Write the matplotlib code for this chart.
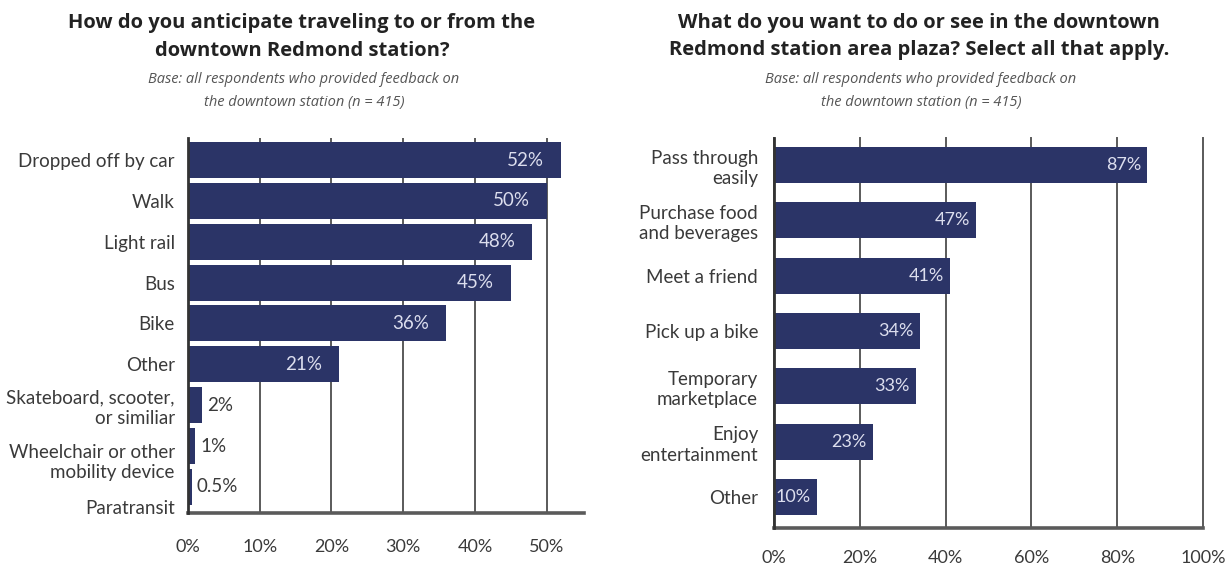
import matplotlib
matplotlib.use("Agg")
import matplotlib.pyplot as plt
from matplotlib.transforms import ScaledTranslation

# ---- data -------------------------------------------------------------
travel_modes = ["Dropped off by car", "Walk", "Light rail", "Bus", "Bike", "Other",
                "Skateboard, scooter,\nor similiar", "Wheelchair or other\nmobility device",
                "Paratransit"]
travel_pct = [52, 50, 48, 45, 36, 21, 2, 1, 0.5]
travel_ticks = [0, 10, 20, 30, 40, 50]

plaza_activities = ["Pass through\neasily", "Purchase food\nand beverages", "Meet a friend",
                    "Pick up a bike", "Temporary\nmarketplace", "Enjoy\nentertainment", "Other"]
plaza_pct = [87, 47, 41, 34, 33, 23, 10]
plaza_ticks = [0, 20, 40, 60, 80, 100]

title_left = "How do you anticipate traveling to or from the\ndowntown Redmond station?"
title_right = "What do you want to do or see in the downtown\nRedmond station area plaza? Select all that apply."
base_note = "Base: all respondents who provided feedback on\nthe downtown station (n = 415)"

# ---- style ------------------------------------------------------------
BODY_FONT = ["Lato", "DejaVu Sans"]
TITLE_FONT = ["Open Sans", "DejaVu Sans"]
plt.rcParams["font.family"] = BODY_FONT
BAR = "#2b3467"
INNER_TXT = "#dcdeee"
DARK_TXT = "#3a3a3a"
GRID = "#5a5a5a"

W, H = 1230, 569
fig = plt.figure(figsize=(W / 100, H / 100), dpi=100)


def px_axes(left, top, right, bottom):
    return fig.add_axes([left / W, 1 - bottom / H, (right - left) / W, (bottom - top) / H])


def draw_panel(ax, labels, values, ticks, xmax, ylim, bar_h, inside_pad, outside_min,
               xpad, ypad, value_size):
    ys = list(range(len(values)))
    ax.barh(ys, values, height=bar_h, color=BAR, zorder=3)
    ax.set_xlim(0, xmax)
    ax.set_ylim(*ylim)
    ax.set_yticks(ys)
    ax.set_yticklabels(labels, fontsize=13.5, color=DARK_TXT, linespacing=1.25)
    ax.set_xticks(ticks)
    ax.set_xticklabels([f"{t}%" for t in ticks], fontsize=13, color=DARK_TXT)
    ax.tick_params(axis="both", length=0)
    ax.tick_params(axis="x", pad=xpad)
    ax.tick_params(axis="y", pad=ypad)
    ax.xaxis.grid(True, color=GRID, linewidth=1.4, zorder=1)
    ax.set_axisbelow(True)
    for s in ("top", "right"):
        ax.spines[s].set_visible(False)
    ax.spines["left"].set_color("#333333")
    ax.spines["left"].set_linewidth(2)
    ax.spines["left"].set_zorder(4)
    ax.spines["bottom"].set_color(GRID)
    ax.spines["bottom"].set_linewidth(2.6)
    for y, v in zip(ys, values):
        txt = f"{v:g}%"
        if v >= outside_min:
            ax.annotate(txt, (v, y), xytext=(-inside_pad * 0.72, 0), textcoords="offset points",
                        ha="right", va="center", fontsize=value_size, color=INNER_TXT, zorder=5)
        else:
            ax.annotate(txt, (v, y), xytext=(5 * 0.72, 0), textcoords="offset points",
                        ha="left", va="center", fontsize=value_size, color=DARK_TXT, zorder=5)


# left panel
ax1 = px_axes(188, 138, 584, 513)
draw_panel(ax1, travel_modes, travel_pct, travel_ticks, 55.2, (8.64, -0.54), 0.88, 17, 5,
           xpad=19, ypad=9.5, value_size=13.5)
ticklabels = ax1.get_yticklabels()
for lab, dy in ((ticklabels[7], 13), (ticklabels[8], 20)):
    lab.set_transform(lab.get_transform() + ScaledTranslation(0, -dy / 100, fig.dpi_scale_trans))

# right panel
ax2 = px_axes(774, 138, 1203, 528)
draw_panel(ax2, plaza_activities, plaza_pct, plaza_ticks, 100, (6.56, -0.49), 0.65, 6, 5,
           xpad=15.5, ypad=11.5, value_size=13)
for line in ax2.get_xgridlines():
    line.set_clip_on(False)

# titles
for cx, title in ((302, title_left), (919, title_right)):
    fig.text(cx / W, 1 - 13 / H, title, ha="center", va="top", fontsize=14.5,
             fontweight="bold", color="#222222", linespacing=1.5, family=TITLE_FONT)
    fig.text((cx + 2) / W, 1 - 91 / H, base_note, ha="center", va="center", fontsize=10.5,
             style="italic", color="#555555", linespacing=1.75, family=TITLE_FONT)

fig.savefig("out.png", dpi=100)
